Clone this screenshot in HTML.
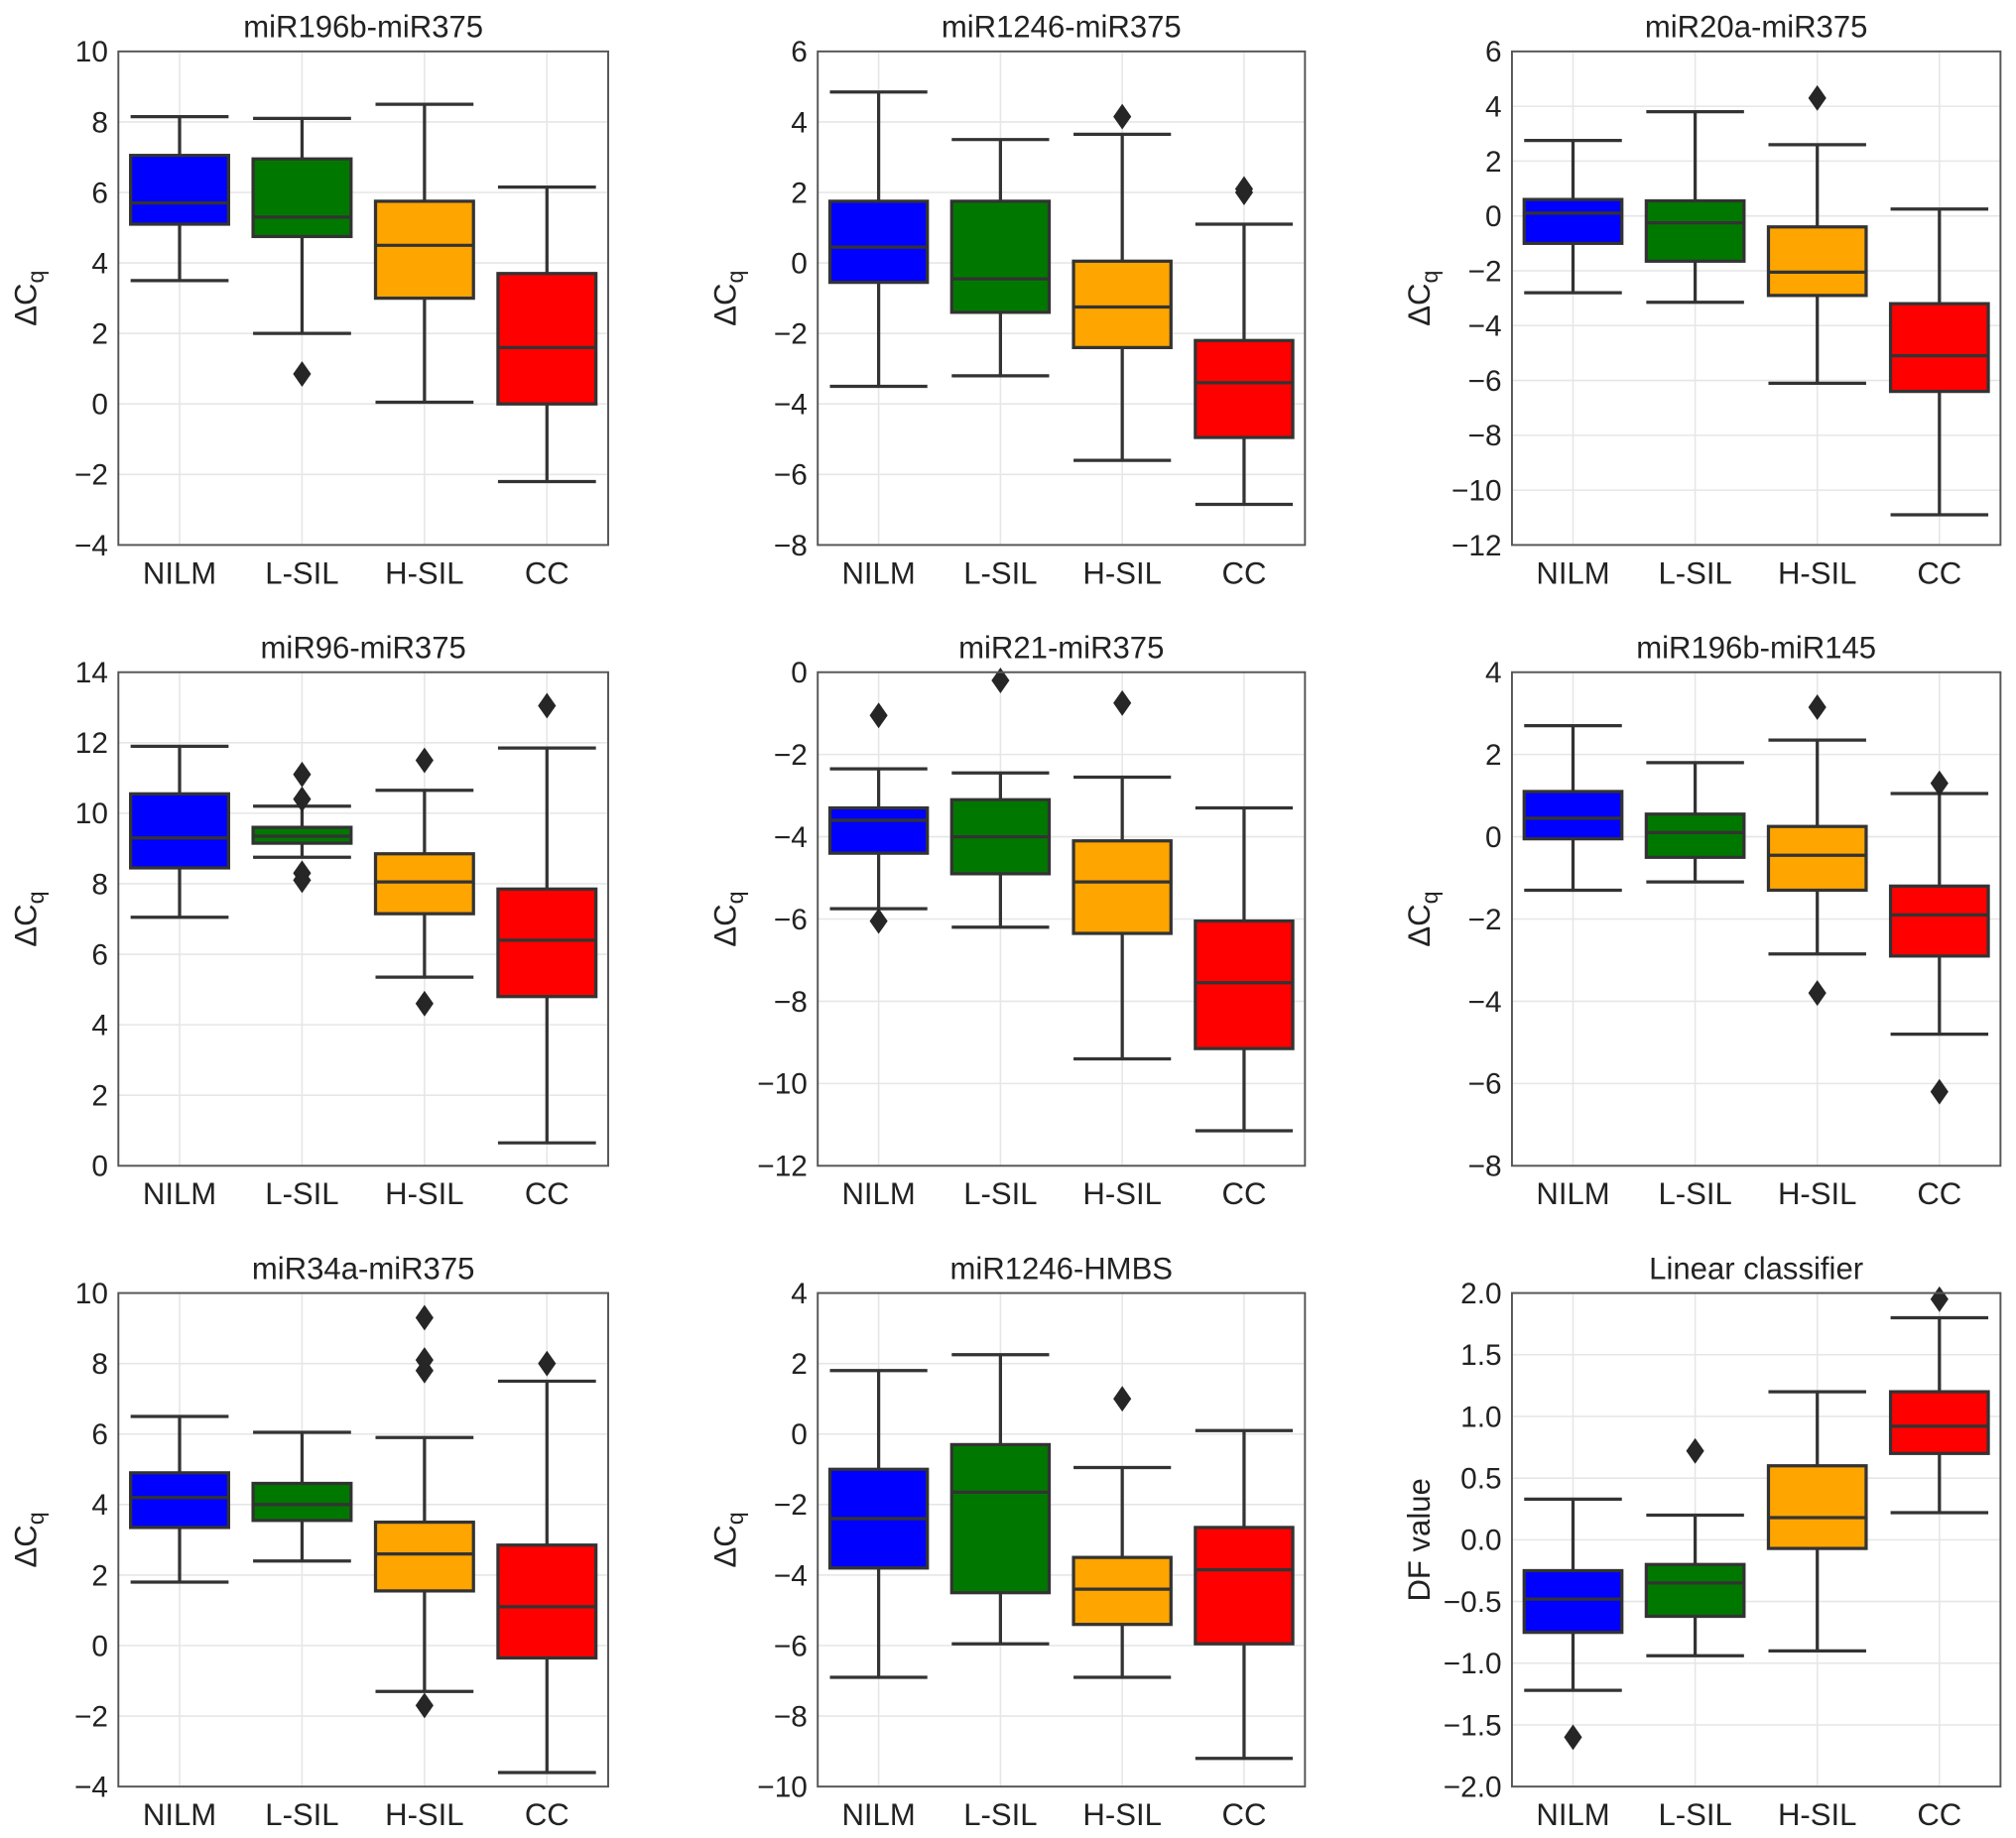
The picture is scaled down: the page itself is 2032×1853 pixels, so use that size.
<!DOCTYPE html>
<html><head><meta charset="utf-8">
<style>
html,body{margin:0;padding:0;background:#fff;}
svg{display:block;}
text{font-family:"Liberation Sans",Arial,sans-serif;fill:#222;}
</style></head>
<body>
<svg id="fig" width="2032" height="1853" viewBox="0 0 1568 1430" xmlns="http://www.w3.org/2000/svg"></svg>
<script>
const categories = ["NILM","L-SIL","H-SIL","CC"];
const boxColors = ["#0000ff","#007800","#ffa500","#ff0000"];
const panelTitles = ["miR196b-miR375","miR1246-miR375","miR20a-miR375","miR96-miR375","miR21-miR375","miR196b-miR145","miR34a-miR375","miR1246-HMBS","Linear classifier"];
const yMins = [-4,-8,-12,0,-12,-8,-4,-10,-2];
const yMaxs = [10,6,6,14,0,4,10,4,2];
const yTickSteps = [2,2,2,2,2,2,2,2,0.5];
const yLabels = ["ΔCq","ΔCq","ΔCq","ΔCq","ΔCq","ΔCq","ΔCq","ΔCq","DF value"];

const whiskerLow = [
 [3.5,2.0,0.05,-2.2],[-3.5,-3.2,-5.6,-6.85],[-2.8,-3.15,-6.1,-10.9],
 [7.05,8.75,5.35,0.65],[-5.75,-6.2,-9.4,-11.15],[-1.3,-1.1,-2.85,-4.8],
 [1.8,2.4,-1.3,-3.6],[-6.9,-5.95,-6.9,-9.2],[-1.22,-0.94,-0.9,0.22]];
const quartile1 = [
 [5.1,4.75,3.0,0],[-0.55,-1.4,-2.4,-4.95],[-1.0,-1.65,-2.9,-6.4],
 [8.45,9.15,7.15,4.8],[-4.4,-4.9,-6.35,-9.15],[-0.05,-0.5,-1.3,-2.9],
 [3.35,3.55,1.55,-0.35],[-3.8,-4.5,-5.4,-5.95],[-0.75,-0.62,-0.07,0.7]];
const medians = [
 [5.7,5.3,4.5,1.6],[0.45,-0.45,-1.25,-3.4],[0.1,-0.25,-2.05,-5.1],
 [9.3,9.35,8.05,6.4],[-3.6,-4.0,-5.1,-7.55],[0.45,0.1,-0.45,-1.9],
 [4.2,4.0,2.6,1.1],[-2.4,-1.65,-4.4,-3.85],[-0.48,-0.35,0.18,0.92]];
const quartile3 = [
 [7.05,6.95,5.75,3.7],[1.75,1.75,0.05,-2.2],[0.6,0.55,-0.4,-3.2],
 [10.55,9.6,8.85,7.85],[-3.3,-3.1,-4.1,-6.05],[1.1,0.55,0.25,-1.2],
 [4.9,4.6,3.5,2.85],[-1.0,-0.3,-3.5,-2.65],[-0.25,-0.2,0.6,1.2]];
const whiskerHigh = [
 [8.15,8.1,8.5,6.15],[4.85,3.5,3.65,1.1],[2.75,3.8,2.6,0.25],
 [11.9,10.2,10.65,11.85],[-2.35,-2.45,-2.55,-3.3],[2.7,1.8,2.35,1.05],
 [6.5,6.05,5.9,7.5],[1.8,2.25,-0.95,0.1],[0.33,0.2,1.2,1.8]];
const outliers = [
 [[],[0.85],[],[]],[[],[],[4.15],[2.0,2.1]],[[],[],[4.3],[]],
 [[],[8.1,8.3,10.4,11.1],[4.6,11.5],[13.05]],[[-1.05,-6.05],[-0.2],[-0.75],[]],[[],[],[3.15,-3.8],[1.3,-6.2]],
 [[],[],[7.8,8.1,9.3,-1.7],[8.0]],[[],[],[1.0],[]],[[-1.6],[0.72],[],[1.95]]];

const NS="http://www.w3.org/2000/svg";
const svg=document.getElementById('fig');
function mk(tag,attrs,parent){const e=document.createElementNS(NS,tag);for(const k in attrs)e.setAttribute(k,attrs[k]);parent.appendChild(e);return e;}
const colLeft=[92,636,1176], colRight=[473,1015,1556];
const rowTop=[40,523,1006], rowBot=[424,907,1390];
function fmt(v,step){let s=step<1?v.toFixed(1):String(Math.round(v));return s.replace('-','\u2212');}

for(let p=0;p<9;p++){
  const c=p%3,r=Math.floor(p/3);
  const L=colLeft[c],R=colRight[c],T=rowTop[r],B=rowBot[r];
  const g=mk('g',{},svg);
  
  
  const y=v=>B-(v-yMins[p])/(yMaxs[p]-yMins[p])*(B-T);
  const band=(R-L)/4;
  const x=i=>L+band*(i+0.5);
  const nT=Math.round((yMaxs[p]-yMins[p])/yTickSteps[p]);
  for(let k=0;k<=nT;k++){
    const v=yMins[p]+k*yTickSteps[p];
    const gl=mk('line',{x1:L,x2:R,y1:y(v),y2:y(v),stroke:'#e6e6e6','stroke-width':1.2},g);
    
    
    const t=mk('text',{x:L-8,y:y(v)+8,'text-anchor':'end','font-size':23},g);
    
    
    t.textContent=fmt(v,yTickSteps[p]);
  }
  for(let i=0;i<4;i++){
    const gl=mk('line',{x1:x(i),x2:x(i),y1:T,y2:B,stroke:'#e6e6e6','stroke-width':1.2},g);
    
    
    const t=mk('text',{x:x(i),y:B+30,'text-anchor':'middle','font-size':24},g);
    
    
    t.textContent=categories[i];
  }
  const bw=band*0.8, cap=band*0.4;
  for(let i=0;i<4;i++){
    const bg=mk('g',{},g);
    
    
    mk('line',{x1:x(i),x2:x(i),y1:y(whiskerLow[p][i]),y2:y(quartile1[p][i]),stroke:'#333','stroke-width':2.5},bg);
    mk('line',{x1:x(i),x2:x(i),y1:y(whiskerHigh[p][i]),y2:y(quartile3[p][i]),stroke:'#333','stroke-width':2.5},bg);
    mk('line',{x1:x(i)-cap,x2:x(i)+cap,y1:y(whiskerLow[p][i]),y2:y(whiskerLow[p][i]),stroke:'#333','stroke-width':2.5},bg);
    mk('line',{x1:x(i)-cap,x2:x(i)+cap,y1:y(whiskerHigh[p][i]),y2:y(whiskerHigh[p][i]),stroke:'#333','stroke-width':2.5},bg);
    mk('rect',{x:x(i)-bw/2,y:y(quartile3[p][i]),width:bw,height:y(quartile1[p][i])-y(quartile3[p][i]),fill:boxColors[i],stroke:'#333','stroke-width':2.5},bg);
    mk('line',{x1:x(i)-bw/2,x2:x(i)+bw/2,y1:y(medians[p][i]),y2:y(medians[p][i]),stroke:'#333','stroke-width':2.5},bg);
    for(const o of outliers[p][i]){
      const yo=y(o);
      const d=mk('polygon',{points:`${x(i)},${yo-10} ${x(i)+7},${yo} ${x(i)},${yo+10} ${x(i)-7},${yo}`,fill:'#262626'},bg);
      
      
    }
  }
  const fr=mk('rect',{x:L,y:T,width:R-L,height:B-T,fill:'none',stroke:'#555','stroke-width':1.5},g);
  
  
  const tt=mk('text',{x:(L+R)/2,y:T-11,'text-anchor':'middle','font-size':24},g);
  
  
  tt.textContent=panelTitles[p];
  const yl=mk('text',{transform:`translate(${L-64},${(T+B)/2}) rotate(-90)`,'text-anchor':'middle','font-size':24},g);
  
  
  if(yLabels[p]==='ΔCq'){
    yl.textContent='ΔC';
    const sub=mk('tspan',{'font-size':18,dy:6},yl);
    sub.textContent='q';
  } else yl.textContent=yLabels[p];
}
</script>
</body></html>
